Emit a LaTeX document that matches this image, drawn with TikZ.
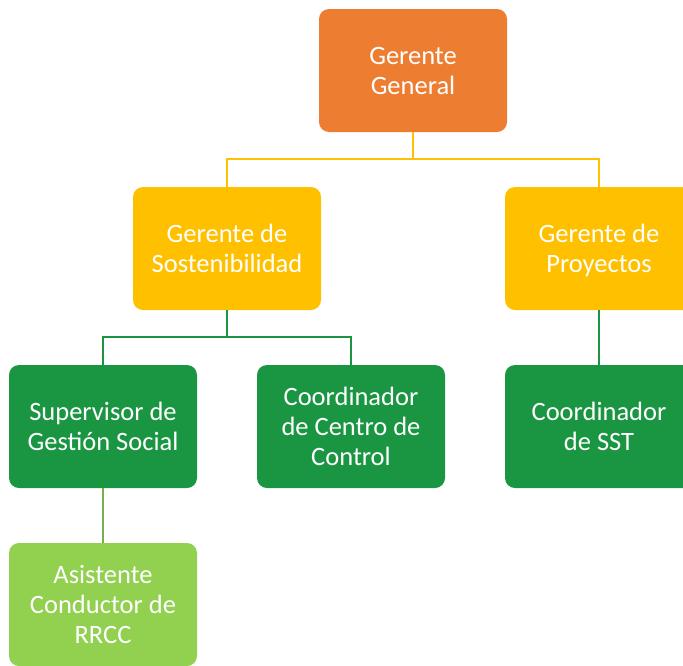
\documentclass[tikz,border=0pt]{standalone}
\usepackage{fontspec}
\setmainfont{Carlito}
\definecolor{cOrange}{RGB}{237,125,49}
\definecolor{cYellow}{RGB}{255,192,0}
\definecolor{cGreen}{RGB}{26,150,66}
\definecolor{cLight}{RGB}{146,208,80}
\definecolor{cLightLine}{RGB}{118,176,78}
\newcommand\mytopstrut{\rule{0pt}{27pt}}
\begin{document}
\begin{tikzpicture}[x=1pt,y=-1pt,
  box/.style={rounded corners=10pt, minimum width=188pt, minimum height=123pt,
    inner sep=0pt, align=center, text=white,
    font=\fontsize{26.5}{30}\selectfont,
    execute at end node=\strut},
  orangebox/.style={box, fill=cOrange},
  yellowbox/.style={box, fill=cYellow},
  greenbox/.style={box, fill=cGreen},
  lightbox/.style={box, fill=cLight},
  yline/.style={draw=cYellow, line width=2pt},
  gline/.style={draw=cGreen, line width=2pt},
  lline/.style={draw=cLightLine, line width=2pt}]
\clip (0,0) rectangle (683,665);
\fill[white] (0,0) rectangle (683,665);
\node[orangebox] (gg) at (413,70.5) {\mytopstrut Gerente\\General};
\node[yellowbox] (gs) at (227,248.5) {\mytopstrut Gerente de\\Sostenibilidad};
\node[yellowbox] (gp) at (599,248.5) {\mytopstrut Gerente de\\Proyectos};
\node[greenbox] (ss) at (103,426.5) {\mytopstrut Supervisor de\\Gestión Social};
\node[greenbox] (cc) at (351,426.5) {\mytopstrut Coordinador\\de Centro de\\Control};
\node[greenbox] (sst) at (599,426.5) {\mytopstrut Coordinador\\de SST};
\node[lightbox] (as) at (103,604.5) {\mytopstrut Asistente\\Conductor de\\RRCC};
\draw[yline] (gg.south) -- ++(0,27) coordinate (yj) -| (gs.north);
\draw[yline] (yj) -| (gp.north);
\draw[gline] (gs.south) -- ++(0,27) coordinate (gj) -| (ss.north);
\draw[gline] (gj) -| (cc.north);
\draw[gline] (gp.south) -- (sst.north);
\draw[lline] (ss.south) -- (as.north);
\end{tikzpicture}
\end{document}
